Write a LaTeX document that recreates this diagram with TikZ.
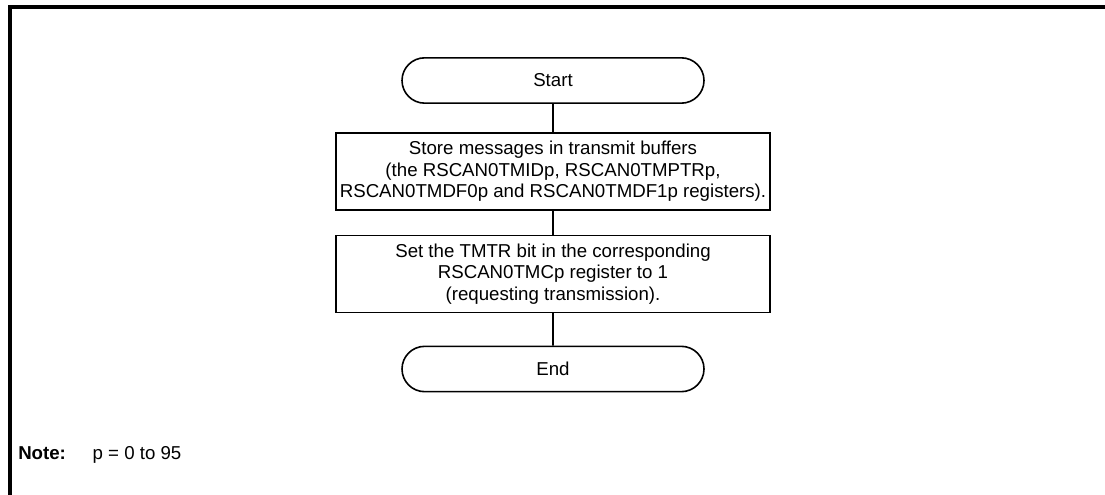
\documentclass[tikz,border=0pt]{standalone}
\usepackage{fontspec}
\setmainfont{Liberation Sans}
\usetikzlibrary{shapes.misc}
\tikzset{
  terminal/.style={
    rounded rectangle, draw=black, line width=1.2pt, fill=white,
    minimum width=226.5pt, minimum height=34pt, inner sep=0pt
  },
  process/.style={
    rectangle, draw=black, line width=1.2pt, fill=white,
    minimum width=325.5pt, minimum height=57.5pt, align=center,
    inner sep=0pt
  },
  link/.style={draw=black, line width=1.2pt},
  frameline/.style={draw=black, line width=2.3pt}
}

\begin{document}
\begin{tikzpicture}[x=0.75pt,y=-0.75pt,font=\fontsize{14}{16.25}\selectfont]
    \useasboundingbox (0,0) rectangle (1105,495);
    \draw[frameline] (1105,7) -- (10,7) -- (10,495);

    \node[terminal] (start) at (553,80.5) {Start};
    \node[process] (store) at (553,171.5)
      {Store messages in transmit buffers\\(the RSCAN0TMIDp, RSCAN0TMPTRp,\\RSCAN0TMDF0p and RSCAN0TMDF1p registers).};
    \node[process] (req) at (553,274)
      {Set the TMTR bit in the corresponding\\RSCAN0TMCp register to 1\\(requesting transmission).};
    \node[terminal] (end) at (553,369) {End};

    \draw[link] (start) -- (store);
    \draw[link] (store) -- (req);
    \draw[link] (req) -- (end);

    \node[anchor=west,inner sep=0pt] (note) at (18,455)
      {\textbf{Note:}\hspace{20pt}p = 0 to 95};
\end{tikzpicture}
\end{document}
